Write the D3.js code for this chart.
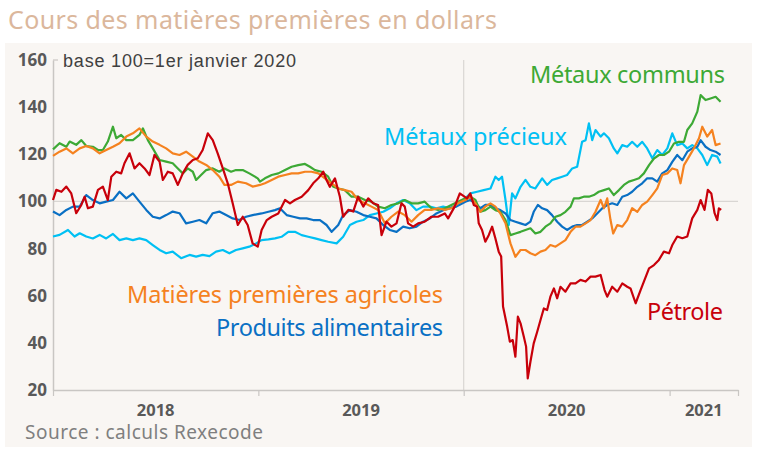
<!DOCTYPE html>
<html>
<head>
<meta charset="utf-8">
<script src="https://cdn.jsdelivr.net/npm/d3@7"></script>
<style>
  html, body { margin: 0; padding: 0; background: #fff; }
  svg { display: block; }
</style>
</head>
<body>
<svg id="chart"></svg>
<script>
// base 100 = 1er janvier 2020, dates en années décimales
const metauxCommuns = [
  [2018.000,122.1],[2018.032,124.7],[2018.065,123.2],[2018.081,125.4],[2018.113,124],[2018.138,126],[2018.162,123.5],
  [2018.194,123.2],[2018.219,121.8],[2018.243,121.8],[2018.267,125.4],[2018.292,131.7],[2018.308,126.8],[2018.332,128.2],
  [2018.357,126],[2018.389,126],[2018.421,128.2],[2018.438,131],[2018.462,126],[2018.486,122.5],[2018.519,117.6],
  [2018.551,116.9],[2018.583,116.2],[2018.608,114],[2018.632,111.9],[2018.656,114],[2018.681,112.6],[2018.697,109.1],
  [2018.721,111.2],[2018.746,113.3],[2018.778,114],[2018.810,112.6],[2018.835,114],[2018.867,112.6],[2018.891,113.3],
  [2018.924,113.3],[2018.956,111.9],[2018.997,109.8],
  [2019.008,108.4],[2019.032,109.8],[2019.065,111.2],[2019.097,111.9],[2019.130,113.3],[2019.162,114.7],[2019.194,115.4],
  [2019.227,115.9],[2019.251,114.7],[2019.276,113.3],[2019.308,112.6],[2019.340,110.5],[2019.365,106.2],[2019.389,105.5],
  [2019.421,104.8],[2019.454,102],[2019.486,102],[2019.519,100.6],[2019.551,99.9],[2019.583,97.8],[2019.616,97.1],
  [2019.648,98.5],[2019.681,99.2],[2019.713,100.6],[2019.746,99.2],[2019.778,99.2],[2019.810,99.9],[2019.843,97.1],
  [2019.875,96.4],[2019.908,97.1],[2019.940,98.5],[2019.972,99.9],
  [2020.008,101.3],[2020.032,102],[2020.057,100.6],[2020.081,95.6],[2020.105,96.3],[2020.130,97.8],[2020.154,96.3],
  [2020.178,95.6],[2020.203,92.1],[2020.227,85.7],[2020.251,86.4],[2020.276,87.1],[2020.300,87.9],[2020.324,88.6],
  [2020.348,86.4],[2020.373,87.1],[2020.397,89.3],[2020.421,90.7],[2020.446,93.5],[2020.470,94.2],[2020.494,95.6],
  [2020.519,97.8],[2020.535,101.3],[2020.559,101.3],[2020.583,102],[2020.608,102],[2020.632,102.7],[2020.656,104.1],
  [2020.681,104.8],[2020.705,105.5],[2020.729,102.7],[2020.754,104.8],[2020.778,107],[2020.802,108.4],[2020.827,109.1],
  [2020.851,109.8],[2020.875,111.9],[2020.900,115.4],[2020.924,118.2],[2020.948,119.7],[2020.972,119.7],[2020.997,121.1],
  [2021.021,124.6],[2021.045,125.3],[2021.070,125.3],[2021.086,130.3],[2021.110,133.1],[2021.135,138.1],[2021.151,145.1],
  [2021.175,143],[2021.199,143.7],[2021.224,144.4],[2021.248,142.3]
];

const agricoles = [
  [2018.000,119.3],[2018.032,121.1],[2018.065,122.5],[2018.097,120.4],[2018.130,122.5],[2018.162,123.5],[2018.194,122.5],
  [2018.227,120.4],[2018.259,121.8],[2018.292,123.2],[2018.324,124.7],[2018.357,127.5],[2018.389,128.9],[2018.421,131],
  [2018.454,127.5],[2018.486,125.4],[2018.519,124],[2018.551,122.5],[2018.583,120.4],[2018.616,119.7],[2018.648,121.1],
  [2018.681,119],[2018.713,116.9],[2018.746,115.5],[2018.778,113.3],[2018.810,110.5],[2018.835,107],[2018.867,107],
  [2018.900,108.4],[2018.940,107.7],[2018.972,106.3],
  [2019.008,107],[2019.032,107.7],[2019.065,109.1],[2019.097,110.5],[2019.130,111.2],[2019.162,111.9],[2019.194,111.9],
  [2019.227,112.6],[2019.259,112.6],[2019.292,111.9],[2019.324,109.8],[2019.357,107.7],[2019.389,105.5],[2019.421,104.8],
  [2019.454,104.1],[2019.486,100.6],[2019.519,99.2],[2019.551,97.8],[2019.583,96.4],[2019.616,90.7],[2019.648,93.5],
  [2019.681,95.7],[2019.713,94.2],[2019.746,91.4],[2019.778,94.2],[2019.810,96.4],[2019.843,96.4],[2019.875,97.1],
  [2019.908,96.4],[2019.940,97.1],[2019.972,99.2],
  [2020.008,100.6],[2020.032,102],[2020.057,99.2],[2020.081,95.6],[2020.105,97.8],[2020.130,99.2],[2020.154,97.8],
  [2020.178,94.9],[2020.203,90.7],[2020.227,82.2],[2020.251,76.5],[2020.276,79.4],[2020.300,79.4],[2020.324,78],
  [2020.348,77.2],[2020.373,78.7],[2020.397,79.4],[2020.421,81.5],[2020.446,80.8],[2020.470,82.2],[2020.494,83.6],
  [2020.519,87.1],[2020.543,89.3],[2020.567,89.3],[2020.592,90.7],[2020.616,92.1],[2020.640,95.6],[2020.665,100.6],
  [2020.681,97.1],[2020.697,101.3],[2020.713,92.1],[2020.726,86.4],[2020.746,90],[2020.770,89.3],[2020.794,92.1],
  [2020.818,97.1],[2020.843,95.6],[2020.867,98.5],[2020.891,99.9],[2020.916,102.7],[2020.940,105.5],[2020.964,111.2],
  [2020.989,111.9],[2021.013,114],[2021.037,113.3],[2021.053,107.7],[2021.070,115.4],[2021.094,118.9],[2021.118,122.5],
  [2021.143,126.8],[2021.159,131.7],[2021.183,127.5],[2021.207,130.3],[2021.224,123.9],[2021.248,124.6]
];

const petrole = [
  [2018.000,100.6],[2018.016,104.9],[2018.041,104.1],[2018.065,106.3],[2018.089,103.4],[2018.113,95],[2018.138,98.5],
  [2018.154,102],[2018.170,97.1],[2018.194,97.8],[2018.219,104.9],[2018.243,106.3],[2018.267,100.6],[2018.284,110.5],
  [2018.308,112.6],[2018.332,111.9],[2018.348,116.2],[2018.373,120.4],[2018.397,114],[2018.421,116.2],[2018.446,114],
  [2018.470,111.2],[2018.494,119.7],[2018.519,116.9],[2018.535,109.1],[2018.559,112.6],[2018.583,111.9],[2018.608,107],
  [2018.632,111.9],[2018.656,115.5],[2018.681,117.6],[2018.705,118.3],[2018.729,121.8],[2018.754,128.9],[2018.778,126],
  [2018.802,120.4],[2018.827,114],[2018.851,107.7],[2018.875,99.2],[2018.900,90],[2018.924,93.5],[2018.948,90],
  [2018.972,82.2],[2018.997,80.8],
  [2019.016,87.9],[2019.041,92.1],[2019.065,93.5],[2019.097,94.9],[2019.130,100.6],[2019.154,99.2],[2019.178,100.6],
  [2019.211,102],[2019.243,104.8],[2019.267,107.7],[2019.292,109.8],[2019.316,112.6],[2019.332,109.1],[2019.348,106.2],
  [2019.373,109.8],[2019.397,102],[2019.413,93.5],[2019.438,96.4],[2019.462,95.7],[2019.486,102],[2019.511,97.8],
  [2019.535,101.3],[2019.559,99.2],[2019.583,98.5],[2019.600,85.7],[2019.624,91.4],[2019.648,89.3],[2019.673,90.7],
  [2019.697,99.2],[2019.713,97.8],[2019.729,90.7],[2019.754,89.3],[2019.778,90.7],[2019.810,91.4],[2019.843,93.5],
  [2019.875,93.5],[2019.908,94.9],[2019.924,92.8],[2019.956,97.8],[2019.981,103.4],
  [2020.016,101.3],[2020.032,103.4],[2020.049,98.5],[2020.065,97.8],[2020.073,90.7],[2020.089,87.9],[2020.105,82.9],
  [2020.122,85.8],[2020.138,89.3],[2020.154,84.3],[2020.170,78.7],[2020.182,76.6],[2020.191,55.4],[2020.211,46.9],
  [2020.224,40.5],[2020.238,41.2],[2020.251,34.1],[2020.263,51.1],[2020.276,48.3],[2020.292,42.6],[2020.303,38.4],
  [2020.311,24.9],[2020.324,32],[2020.340,39.8],[2020.357,44.7],[2020.373,49.7],[2020.389,54.6],[2020.405,53.9],
  [2020.421,59.6],[2020.438,63.1],[2020.454,58.9],[2020.470,63.8],[2020.494,61.7],[2020.519,65.2],[2020.543,65.2],
  [2020.567,66.7],[2020.592,66],[2020.616,68.1],[2020.640,68.1],[2020.665,68.8],[2020.684,62.4],[2020.697,59.6],
  [2020.721,63.8],[2020.746,61.7],[2020.770,65.2],[2020.794,63.8],[2020.810,63.1],[2020.835,56.8],[2020.859,62.4],
  [2020.875,66],[2020.900,71.6],[2020.924,73],[2020.948,75.2],[2020.972,78.7],[2020.997,78],[2021.013,81.5],
  [2021.037,85.1],[2021.062,84.4],[2021.086,85.1],[2021.110,92.8],[2021.135,96.4],[2021.151,100.6],[2021.170,96.4],
  [2021.186,104.9],[2021.203,103.4],[2021.219,95],[2021.232,92.1],[2021.240,97.1],[2021.251,96.4]
];

const alimentaires = [
  [2018.000,95.7],[2018.032,94.2],[2018.065,96.4],[2018.097,97.8],[2018.130,97.8],[2018.162,102.7],[2018.194,100.6],
  [2018.227,99.2],[2018.259,99.9],[2018.292,100.6],[2018.324,104.1],[2018.357,101.3],[2018.389,103.4],[2018.421,99.9],
  [2018.454,96.4],[2018.486,93.5],[2018.519,92.8],[2018.551,94.2],[2018.583,95.7],[2018.616,95],[2018.648,90.7],
  [2018.681,91.4],[2018.713,92.1],[2018.746,90.7],[2018.778,95],[2018.810,95.7],[2018.843,94.2],[2018.875,92.8],
  [2018.908,92.1],[2018.940,93.5],[2018.972,94.2],
  [2019.016,94.9],[2019.049,95.6],[2019.081,96.3],[2019.105,97.1],[2019.138,94.2],[2019.170,93.5],[2019.203,92.8],
  [2019.235,92.8],[2019.267,92.1],[2019.300,92.1],[2019.332,90],[2019.357,87.1],[2019.389,90],[2019.413,94.2],
  [2019.446,96.3],[2019.478,95.6],[2019.511,94.2],[2019.543,93.5],[2019.575,92.8],[2019.608,90],[2019.640,87.9],
  [2019.673,87.1],[2019.705,89.3],[2019.737,88.6],[2019.770,89.3],[2019.802,91.4],[2019.835,92.8],[2019.867,94.9],
  [2019.900,96.3],[2019.932,97.1],[2019.964,97.8],
  [2020.008,99.9],[2020.032,100.6],[2020.057,99.2],[2020.081,97.1],[2020.105,98.5],[2020.130,98.5],[2020.154,97.1],
  [2020.178,96.3],[2020.203,94.9],[2020.227,92.1],[2020.251,91.4],[2020.276,90.7],[2020.300,90],[2020.324,91.4],
  [2020.340,95.6],[2020.360,98.5],[2020.381,97.1],[2020.405,96.3],[2020.429,94.2],[2020.454,91.4],[2020.478,89.3],
  [2020.502,87.9],[2020.527,89.3],[2020.551,90],[2020.575,90],[2020.600,91.4],[2020.624,92.8],[2020.648,94.9],
  [2020.673,97.1],[2020.697,98.5],[2020.721,99.2],[2020.746,98.5],[2020.770,102],[2020.794,102.7],[2020.818,104.1],
  [2020.843,106.2],[2020.867,107.7],[2020.891,109.8],[2020.916,109.8],[2020.940,108.4],[2020.964,111.9],[2020.989,113.3],
  [2021.013,116.8],[2021.037,119.7],[2021.062,117.5],[2021.086,121.1],[2021.110,122.5],[2021.135,123.2],[2021.151,126],
  [2021.175,123.2],[2021.199,121.8],[2021.224,121.1],[2021.248,119.7]
];

const metauxPrecieux = [
  [2018.000,85.1],[2018.032,85.8],[2018.073,87.9],[2018.105,85.1],[2018.130,86.5],[2018.162,85.1],[2018.194,84.3],
  [2018.227,85.8],[2018.259,84.3],[2018.292,86.2],[2018.324,83.6],[2018.357,84.3],[2018.389,83.6],[2018.421,84.3],
  [2018.454,83.6],[2018.486,81.5],[2018.519,79.4],[2018.551,78],[2018.583,78.7],[2018.624,75.9],[2018.665,77.3],
  [2018.697,76.6],[2018.729,77.3],[2018.762,76.8],[2018.794,78.7],[2018.827,79.4],[2018.859,78],[2018.891,79.4],
  [2018.924,80.1],[2018.956,80.8],[2018.989,82.2],
  [2019.016,83.6],[2019.049,83.9],[2019.081,84.3],[2019.113,85],[2019.146,87.1],[2019.178,87.1],[2019.211,85.7],
  [2019.243,85],[2019.276,84.3],[2019.308,83.6],[2019.340,82.9],[2019.381,82.2],[2019.413,85],[2019.446,90],
  [2019.478,91.4],[2019.511,92.1],[2019.543,94.2],[2019.575,94.9],[2019.608,95.6],[2019.640,97.1],[2019.673,99.2],
  [2019.705,100.6],[2019.737,99.2],[2019.770,96.3],[2019.802,97.8],[2019.835,97.8],[2019.867,97.1],[2019.900,97.8],
  [2019.932,97.1],[2019.964,98.5],
  [2020.008,101.3],[2020.032,103.4],[2020.065,104.1],[2020.097,104.8],[2020.130,105.5],[2020.154,110.5],[2020.170,109.1],
  [2020.186,110.5],[2020.203,100.6],[2020.219,90],[2020.235,103.4],[2020.251,101.3],[2020.276,106.2],[2020.300,109.1],
  [2020.324,106.2],[2020.348,105.5],[2020.381,109.8],[2020.405,107],[2020.429,109.1],[2020.454,109.8],[2020.478,110.5],
  [2020.502,111.2],[2020.527,114],[2020.551,114.7],[2020.575,125.3],[2020.592,126],[2020.608,133.1],[2020.624,126],
  [2020.640,130.3],[2020.665,127.5],[2020.681,128.9],[2020.705,126.8],[2020.729,122.5],[2020.746,120.4],[2020.770,123.9],
  [2020.794,123.2],[2020.818,125.3],[2020.843,123.2],[2020.867,125.3],[2020.891,122.5],[2020.916,118.3],[2020.940,121.8],
  [2020.964,119.7],[2020.989,122.5],[2021.013,128.9],[2021.037,123.9],[2021.062,124.6],[2021.086,122.5],[2021.110,123.9],
  [2021.135,122.5],[2021.159,119.7],[2021.183,115.4],[2021.207,119.7],[2021.232,119],[2021.248,116.1]
];

const yTicks = [20, 40, 60, 80, 100, 120, 140, 160];
const years = [2018, 2019, 2020, 2021];

const width = 758;
const height = 450;
const fontLabel = "'Noto Sans', Lato, sans-serif";

// conversion année décimale -> Date
function toDate(t) {
  const y = Math.floor(t);
  const a = new Date(y, 0, 1), b = new Date(y + 1, 0, 1);
  return new Date(+a + (t - y) * (b - a));
}

const svg = d3.select("#chart").attr("width", width).attr("height", height);

svg.append("rect").attr("width", width).attr("height", height).attr("fill", "#ffffff");
svg.append("rect")
  .attr("x", 5).attr("y", 43).attr("width", 747).attr("height", 404)
  .attr("fill", "#f9f6f3");

svg.append("text")
  .attr("x", 8).attr("y", 29)
  .attr("font-family", fontLabel)
  .attr("font-size", 25)
  .attr("textLength", 489)
  .attr("fill", "#dbb79c")
  .text("Cours des matières premières en dollars");

const x = d3.scaleTime()
  .domain([toDate(2018), toDate(2021.333)])
  .range([53, 738]);

const y = d3.scaleLinear()
  .domain([20, 160])
  .range([390, 60]);

// lignes de repère
svg.append("line")
  .attr("x1", x.range()[0]).attr("x2", x.range()[1])
  .attr("y1", y(100)).attr("y2", y(100))
  .attr("stroke", "#d9d6d3").attr("stroke-width", 1.2);

svg.append("line")
  .attr("x1", x(toDate(2020))).attr("x2", x(toDate(2020)))
  .attr("y1", y(160)).attr("y2", y(20))
  .attr("stroke", "#d9d6d3").attr("stroke-width", 1.2);

// axe Y
const yAxis = svg.append("g")
  .attr("transform", `translate(${x.range()[0]},0)`)
  .call(d3.axisLeft(y).tickValues(yTicks).tickSize(0).tickPadding(6).tickSizeOuter(0));
yAxis.select(".domain").attr("stroke", "#c9c6c3").attr("stroke-width", 1.5);
yAxis.selectAll("text")
  .attr("font-family", "'Open Sans', sans-serif")
  .attr("font-weight", "bold")
  .attr("font-size", 17)
  .attr("fill", "#595959");
svg.append("line")
  .attr("x1", x.range()[0]).attr("x2", x.range()[0] + 5)
  .attr("y1", y(160)).attr("y2", y(160))
  .attr("stroke", "#c9c6c3").attr("stroke-width", 1.2);

// axe X
const xEnd = x.domain()[1];
const xAxis = svg.append("g")
  .attr("transform", `translate(0,${y(20)})`)
  .call(d3.axisBottom(x)
    .tickValues(years.map(toDate).concat([xEnd]))
    .tickFormat("")
    .tickSize(6)
    .tickSizeOuter(0));
xAxis.select(".domain").attr("stroke", "#c9c6c3").attr("stroke-width", 1.5);
xAxis.selectAll(".tick line").attr("stroke", "#c9c6c3").attr("stroke-width", 1.2);

svg.append("g").selectAll("text")
  .data(years)
  .join("text")
  .attr("x", (d) => {
    const a = toDate(d);
    const b = d < 2021 ? toDate(d + 1) : xEnd;
    return (x(a) + x(b)) / 2;
  })
  .attr("y", 416)
  .attr("text-anchor", "middle")
  .attr("font-family", "'Open Sans', sans-serif")
  .attr("font-weight", "bold")
  .attr("font-size", 16.5)
  .attr("fill", "#595959")
  .text((d) => d);

// séries
const series = [
  { name: "Métaux précieux", data: metauxPrecieux, color: "#00c0f3" },
  { name: "Produits alimentaires", data: alimentaires, color: "#0a70c4" },
  { name: "Métaux communs", data: metauxCommuns, color: "#3da935" },
  { name: "Matières premières agricoles", data: agricoles, color: "#f5821f" },
  { name: "Pétrole", data: petrole, color: "#c8000a" },
];

const line = d3.line()
  .x((d) => x(toDate(d[0])))
  .y((d) => y(d[1]));

svg.append("g").selectAll("path")
  .data(series)
  .join("path")
  .attr("d", (d) => line(d.data))
  .attr("fill", "none")
  .attr("stroke", (d) => d.color)
  .attr("stroke-width", 2.2)
  .attr("stroke-linejoin", "round");

// étiquettes des séries
const labels = [
  { text: "Métaux communs", x: 530, y: 83, w: 195, color: "#3da935" },
  { text: "Métaux précieux", x: 384, y: 145, w: 183, color: "#00c0f3" },
  { text: "Matières premières agricoles", x: 127, y: 303, w: 316, color: "#f5821f" },
  { text: "Produits alimentaires", x: 216, y: 336, w: 227, color: "#0a70c4" },
  { text: "Pétrole", x: 647, y: 320, w: 76, color: "#c8000a" },
];

svg.append("g").selectAll("text")
  .data(labels)
  .join("text")
  .attr("x", (d) => d.x)
  .attr("y", (d) => d.y)
  .attr("textLength", (d) => d.w)
  .attr("font-family", fontLabel)
  .attr("font-size", 23.5)
  .attr("fill", (d) => d.color)
  .text((d) => d.text);

svg.append("text")
  .attr("x", 63).attr("y", 67)
  .attr("font-family", "'Liberation Sans', Arial, sans-serif")
  .attr("font-size", 18)
  .attr("textLength", 233)
  .attr("fill", "#404040")
  .text("base 100=1er janvier 2020");

svg.append("text")
  .attr("x", 25).attr("y", 439)
  .attr("font-family", fontLabel)
  .attr("font-size", 19)
  .attr("textLength", 238)
  .attr("fill", "#7f7f7f")
  .text("Source : calculs Rexecode");
</script>
</body>
</html>
